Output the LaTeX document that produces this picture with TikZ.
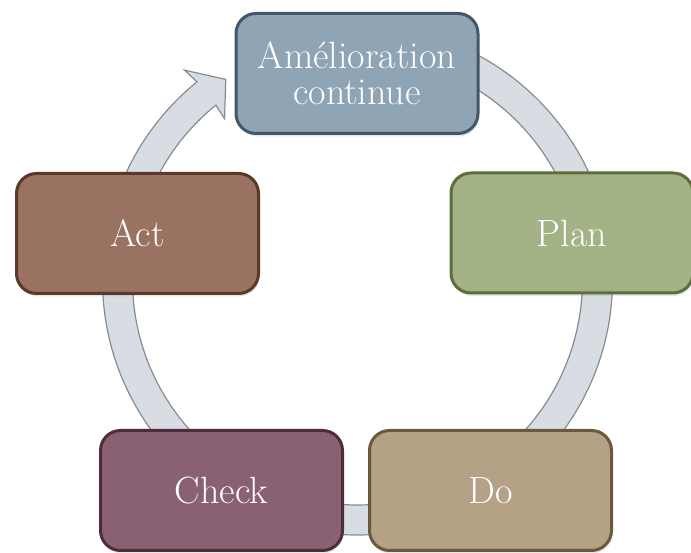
\documentclass[tikz,border=0pt]{standalone}
\usepackage{tikz}
\usetikzlibrary{shadows}

\definecolor{amelfill}{HTML}{8FA4B5}
\definecolor{ameldraw}{HTML}{44576A}
\definecolor{planfill}{HTML}{A4B386}
\definecolor{plandraw}{HTML}{5D6D3B}
\definecolor{dofill}{HTML}{B5A185}
\definecolor{dodraw}{HTML}{6A593C}
\definecolor{checkfill}{HTML}{8A6173}
\definecolor{checkdraw}{HTML}{502C3B}
\definecolor{actfill}{HTML}{9A7261}
\definecolor{actdraw}{HTML}{5B392A}
\definecolor{ringfill}{HTML}{D7DDE2}
\definecolor{ringdraw}{HTML}{858C93}

\begin{document}
\begin{tikzpicture}[x=1pt,y=1pt,
  stage/.style={rectangle, rounded corners=20pt, line width=3pt,
    minimum width=242pt, minimum height=120pt, text=white, align=center,
    font=\fontsize{38}{36}\selectfont,
    drop shadow={shadow xshift=1pt, shadow yshift=-3pt, opacity=.18}},
  ring/.style={fill=ringfill, draw=ringdraw, line width=1.2pt, line join=miter}]
  \useasboundingbox (0,0) rectangle (691,553);

  % The circular arrow behind the boxes
  \begin{scope}[shift={(357.5,273)}]
    \draw[ring] (90:255) arc[start angle=90, end angle=-231, radius=255]
      -- (-230.5:272) -- (-236.7:240) -- (-230.5:209) -- (-231:225)
      arc[start angle=-231, end angle=90, radius=225] -- cycle;
  \end{scope}

  % The five stages
  \node[stage, fill=amelfill, draw=ameldraw] (amel) at (357,479.5) {Amélioration\\continue};
  \node[stage, fill=planfill, draw=plandraw] (plan) at (572,320) {Plan};
  \node[stage, fill=dofill, draw=dodraw] (do) at (490.5,62.5) {Do};
  \node[stage, fill=checkfill, draw=checkdraw] (check) at (221.5,62.5) {Check};
  \node[stage, fill=actfill, draw=actdraw] (act) at (137.5,319.5) {Act};
\end{tikzpicture}
\end{document}
